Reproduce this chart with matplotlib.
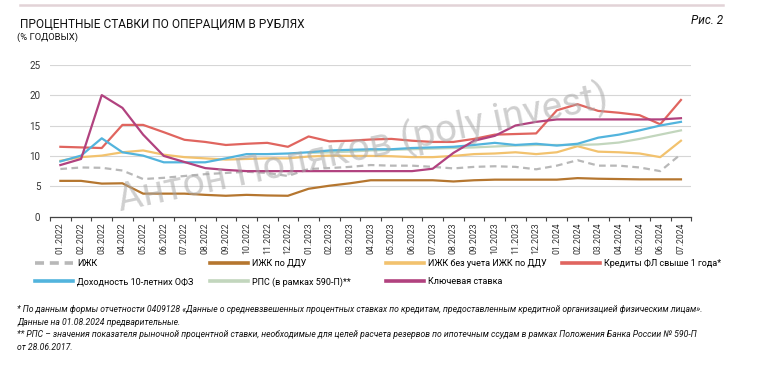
# interest rates on ruble operations, monthly 01.2022 - 07.2024
import numpy as np
import matplotlib
matplotlib.use("Agg")
import matplotlib.pyplot as plt
from matplotlib.lines import Line2D

nan = np.nan

# x axis categories (months)
months = [
    "01.2022", "02.2022", "03.2022", "04.2022", "05.2022", "06.2022", "07.2022", "08.2022",
    "09.2022", "10.2022", "11.2022", "12.2022", "01.2023", "02.2023", "03.2023", "04.2023",
    "05.2023", "06.2023", "07.2023", "08.2023", "09.2023", "10.2023", "11.2023", "12.2023",
    "01.2024", "02.2024", "03.2024", "04.2024", "05.2024", "06.2024", "07.2024",
]

# series values (% annual)
izhk = [7.85, 8.1, 8.05, 7.6, 6.2, 6.4, 6.7, 7.0, 7.2, 7.4, 7.2,
        6.7, 7.85, 8.0, 8.2, 8.5, 8.4, 8.4, 8.2, 7.95, 8.2,
        8.3, 8.2, 7.8, 8.4, 9.3, 8.4, 8.4, 8.1, 7.5, 10.3]
izhk_ddu = [5.9, 5.9, 5.45, 5.5, 3.8, 3.8, 3.8, 3.6, 3.45, 3.6, 3.5,
            3.45, 4.6, 5.1, 5.5, 6.0, 6.0, 6.0, 6.0, 5.8, 6.0,
            6.1, 6.1, 6.1, 6.1, 6.35, 6.25, 6.2, 6.15, 6.15, 6.15]
izhk_no_ddu = [9.2, 9.8, 10.05, 10.6, 10.9, 10.2, 9.8, 9.6, 9.4, 9.5, 9.6,
               9.6, 9.9, 10.05, 10.0, 10.0, 9.95, 9.8, 9.8, 10.0, 10.3,
               10.4, 10.6, 10.3, 10.6, 11.6, 10.7, 10.6, 10.4, 9.8, 12.5]
credits_fl = [11.5, 11.4, 11.3, 15.1, 15.1, 13.9, 12.65, 12.3, 11.8, 12.0, 12.15,
              11.5, 13.2, 12.4, 12.5, 12.7, 12.8, 12.5, 12.3, 12.3, 12.8,
              13.5, 13.6, 13.7, 17.5, 18.5, 17.4, 17.1, 16.7, 15.2, 19.2]
ofz10 = [9.1, 10.05, 12.9, 10.6, 10.05, 8.95, 8.95, 8.95, 9.6, 10.3, 10.3,
         10.4, 10.6, 10.9, 11.0, 11.1, 11.1, 11.3, 11.4, 11.5, 11.8,
         12.15, 11.8, 12.0, 11.7, 12.0, 13.0, 13.5, 14.2, 15.0, 15.6]
rps = [nan, nan, nan, nan, nan, nan, nan, nan, nan, nan, nan,
       nan, 10.5, 10.6, 10.7, 10.9, 11.0, 11.1, 11.2, 11.3, 11.4,
       11.55, 11.7, 11.8, 11.8, 11.8, 11.9, 12.2, 12.8, 13.5, 14.2]
key_rate = [8.5, 9.5, 20.0, 17.9, 13.5, 10.0, 9.0, 8.0, 7.7, 7.5, 7.5,
            7.5, 7.5, 7.5, 7.5, 7.5, 7.5, 7.5, 7.9, 10.5, 12.5,
            13.3, 15.0, 15.6, 16.0, 16.0, 16.0, 16.0, 16.0, 16.0, 16.2]

labels = ["ИЖК", "ИЖК по ДДУ", "ИЖК без учета ИЖК по ДДУ", "Кредиты ФЛ свыше 1 года*",
          "Доходность 10-летних ОФЗ", "РПС (в рамках 590-П)**", "Ключевая ставка"]
yticks = [0, 5, 10, 15, 20, 25]

plt.rcParams["font.family"] = ["Roboto", "DejaVu Sans"]

fig = plt.figure(figsize=(7.58, 3.85), dpi=100)
ax = fig.add_axes([0.066, 0.437, 0.846, 0.395])

x = np.arange(len(months))
lw = 1.6
series = [
    (izhk, "#b8b8b8", "--", labels[0]),
    (izhk_ddu, "#b5762f", "-", labels[1]),
    (izhk_no_ddu, "#f2c26e", "-", labels[2]),
    (credits_fl, "#e0655f", "-", labels[3]),
    (rps, "#c2d6bd", "-", labels[5]),
    (ofz10, "#52b4dd", "-", labels[4]),
    (key_rate, "#b1427f", "-", labels[6]),
]
handles = {}
for vals, col, ls, lab in series:
    (h,) = ax.plot(x, vals, color=col, ls=ls, lw=lw, label=lab, zorder=3,
                   dashes=(3, 2) if ls == "--" else (None, None))
    handles[lab] = h

# axes styling
ax.set_xlim(-0.5, len(months) - 0.5)
ax.set_ylim(0, 25)
ax.set_yticks(yticks)
ax.set_yticklabels([str(v) for v in yticks], fontsize=7, color="#333333")
ax.grid(axis="y", color="#d6d6d6", lw=0.8)
ax.set_axisbelow(True)
for s in ["left", "right", "top"]:
    ax.spines[s].set_visible(False)
ax.spines["bottom"].set_color("#444444")
ax.spines["bottom"].set_linewidth(0.9)
ax.tick_params(axis="y", length=0, pad=7)
ax.set_xticks(x)
ax.set_xticklabels(months, rotation=90, fontsize=6.3, color="#333333")
ax.tick_params(axis="x", which="major", length=0, pad=4)
ax.set_xticks(np.arange(-0.5, len(months)), minor=True)
ax.tick_params(axis="x", which="minor", length=3, color="#444444", width=0.8)

# legend, four columns
cols = [[labels[0], labels[4]], [labels[1], labels[5]], [labels[2], labels[6]], [labels[3]]]
col_x = [0.046, 0.277, 0.509, 0.741]
for names, cx in zip(cols, col_x):
    hs = []
    for n in names:
        h = handles[n]
        hs.append(Line2D([0], [0], color=h.get_color(), ls=h.get_linestyle(), lw=2.6,
                         dashes=(2.5, 1.6) if n == labels[0] else (None, None)))
    fig.legend(hs, names, loc="upper left", bbox_to_anchor=(cx, 0.328), frameon=False,
               fontsize=6.5, handlelength=4.2, handletextpad=0.45, labelspacing=1.05,
               borderpad=0, borderaxespad=0)

# titles
fig.add_artist(Line2D([20 / 758, 723 / 758], [1 - 5 / 385, 1 - 5 / 385], color="#e2d3d7", lw=1.8))
fig.text(20 / 758, 1 - 25 / 385, "ПРОЦЕНТНЫЕ СТАВКИ ПО ОПЕРАЦИЯМ В РУБЛЯХ", fontsize=8.6,
         va="center", ha="left", color="#111111")
fig.text(17 / 758, 1 - 37 / 385, "(% ГОДОВЫХ)", fontsize=6.8, va="center", ha="left",
         color="#111111")
fig.text(723 / 758, 1 - 20 / 385, "Рис. 2", fontsize=8.5, style="italic", va="center",
         ha="right", color="#111111")

# watermark
fig.text(0.478, 0.616, "Антон Поляков (poly invest)", fontsize=28, color="#a8a8a8", alpha=0.55,
         rotation=12, ha="center", va="center", family=["Liberation Sans Narrow", "Roboto"])

# footnotes
notes = [
    "* По данным формы отчетности 0409128 «Данные о средневзвешенных процентных ставках по кредитам, предоставленным кредитной организацией физическим лицам».",
    "Данные на 01.08.2024 предварительные.",
    "** РПС – значения показателя рыночной процентной ставки, необходимые для целей расчета резервов по ипотечным ссудам в рамках Положения Банка России № 590-П",
    "от 28.06.2017.",
]
for i, t in enumerate(notes):
    fig.text(17 / 758, 1 - (310 + 12.4 * i) / 385, t, fontsize=6.2, style="italic",
             va="center", ha="left", color="#111111",
             family=["Liberation Sans Narrow", "Roboto"])

fig.savefig("out.png", dpi=100, facecolor="white")
